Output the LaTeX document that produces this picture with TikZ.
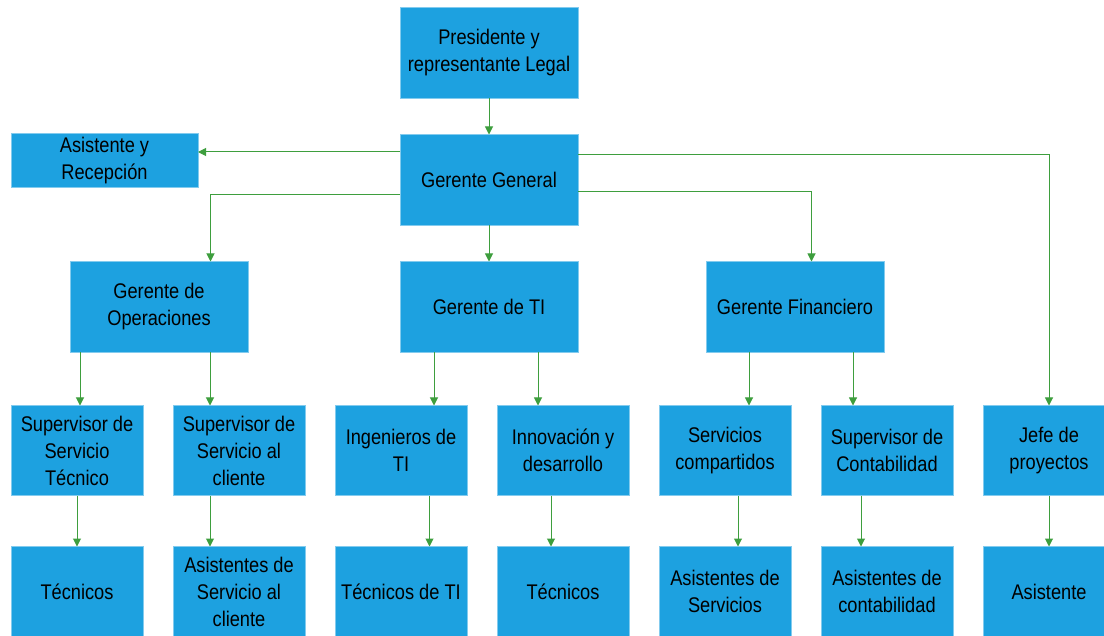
\documentclass[tikz,border=0pt]{standalone}
\usepackage{fontspec}
\setmainfont{Liberation Sans}[FakeStretch=0.86]
\usepackage{xcolor}
\usetikzlibrary{arrows.meta, positioning}

\definecolor{boxblue}{HTML}{1DA1E0}
\definecolor{linkgreen}{HTML}{3E9E3E}

\begin{document}
\begin{tikzpicture}[
    x=0.5pt, y=0.5pt,
    node distance=18pt and 15pt,
    box/.style={rectangle, fill=boxblue, draw=boxblue!55!white, line width=0.4pt, outer sep=0pt, align=center, font=\fontsize{10.6}{13.5}\selectfont, inner sep=2pt},
    big/.style={box, minimum width=89pt, minimum height=45.5pt},
    small/.style={box, minimum width=66pt, minimum height=45pt},
    arrow/.style={-{Triangle[length=4pt, width=4pt]}, linkgreen, line width=0.5pt},
]
\clip (0,0) rectangle (1104,-636);

% Top
\node[big] (pres) at (489,-53) {Presidente y\\representante Legal};
\node[big, below=of pres] (gg) {Gerente General};
\node[box, minimum width=93.5pt, minimum height=25.5pt] (asis) at (104.5,-160.5) {Asistente y\\Recepción};

% Managers
\node[big, below=of gg] (ti) {Gerente de TI};
\node[big, left=76pt of ti] (ops) {Gerente de\\Operaciones};
\node[big, right=64pt of ti] (fin) {Gerente Financiero};

% Supervisors
\node[small] (sst) at (77,-450.5) {Supervisor de\\Servicio\\Técnico};
\node[small, right=of sst] (ssc) {Supervisor de\\Servicio al\\cliente};
\node[small, right=of ssc] (ing) {Ingenieros de\\TI};
\node[small, right=of ing] (inn) {Innovación y\\desarrollo};
\node[small, right=of inn] (serv) {Servicios\\compartidos};
\node[small, right=of serv] (supc) {Supervisor de\\Contabilidad};
\node[small, right=of supc] (jefe) {Jefe de\\proyectos};

% Staff
\node[small, below=25.5pt of sst] (tec) {Técnicos};
\node[small, below=25.5pt of ssc] (asc) {Asistentes de\\Servicio al\\cliente};
\node[small, below=25.5pt of ing] (tti) {Técnicos de TI};
\node[small, below=25.5pt of inn] (tec2) {Técnicos};
\node[small, below=25.5pt of serv] (ass) {Asistentes de\\Servicios};
\node[small, below=25.5pt of supc] (asco) {Asistentes de\\contabilidad};
\node[small, below=25.5pt of jefe] (asj) {Asistente};

% Arrows from the top
\draw[arrow] (pres) -- (gg);
\draw[arrow] ([yshift=14pt]gg.west) -- ([yshift=14pt]gg.west -| asis.east);
\draw[arrow] ([yshift=-7.5pt]gg.west) -| ([xshift=25.75pt]ops.north);
\draw[arrow] (gg) -- (ti);
\draw[arrow] ([yshift=-6pt]gg.east) -| ([xshift=8.25pt]fin.north);
\draw[arrow] ([yshift=12.5pt]gg.east) -| (jefe.north);

% Managers to supervisors
\draw[arrow] ([xshift=1.5pt]sst.north |- ops.south) -- ([xshift=1.5pt]sst.north);
\draw[arrow] ([xshift=-14.5pt]ssc.north |- ops.south) -- ([xshift=-14.5pt]ssc.north);
\draw[arrow] ([xshift=16.5pt]ing.north |- ti.south) -- ([xshift=16.5pt]ing.north);
\draw[arrow] ([xshift=-12.5pt]inn.north |- ti.south) -- ([xshift=-12.5pt]inn.north);
\draw[arrow] ([xshift=12pt]serv.north |- fin.south) -- ([xshift=12pt]serv.north);
\draw[arrow] ([xshift=-17pt]supc.north |- fin.south) -- ([xshift=-17pt]supc.north);

% Supervisors to staff
\draw[arrow] (sst) -- (tec);
\draw[arrow] ([xshift=-14.5pt]ssc.south) -- ([xshift=-14.5pt]asc.north);
\draw[arrow] ([xshift=14.25pt]ing.south) -- ([xshift=14.25pt]tti.north);
\draw[arrow] ([xshift=-6pt]inn.south) -- ([xshift=-6pt]tec2.north);
\draw[arrow] ([xshift=6.5pt]serv.south) -- ([xshift=6.5pt]ass.north);
\draw[arrow] ([xshift=-13pt]supc.south) -- ([xshift=-13pt]asco.north);
\draw[arrow] (jefe) -- (asj);

\end{tikzpicture}
\end{document}
